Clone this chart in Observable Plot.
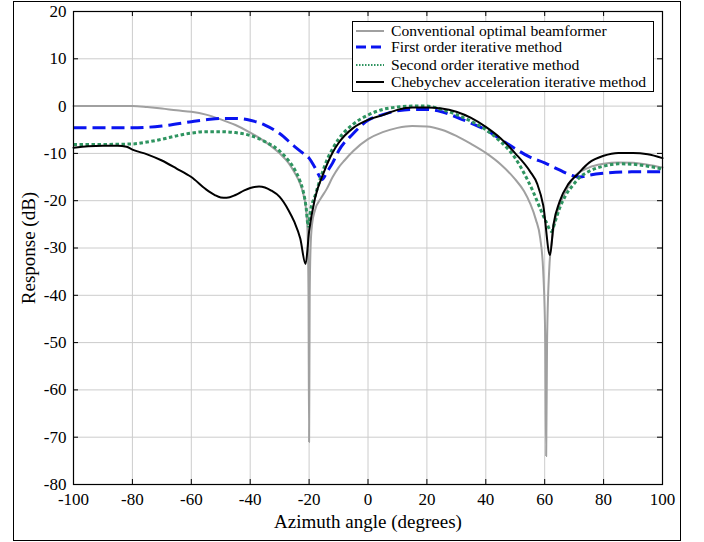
<!DOCTYPE html>
<html>
<head>
<meta charset="utf-8">
<script src="https://cdn.jsdelivr.net/npm/d3@7"></script>
<script src="https://cdn.jsdelivr.net/npm/@observablehq/plot@0.6"></script>
<style>
  html, body { margin: 0; padding: 0; background: #fff; }
  #wrap { position: relative; width: 704px; height: 542px; font-family: "Liberation Serif", "Times New Roman", serif; }
  #chart svg, #chart svg text { font-family: "Liberation Serif", "Times New Roman", serif !important; }
  #outer { position: absolute; left: 13px; top: 1px; width: 666px; height: 538px; border: 1px solid #000; pointer-events: none; }
  #legend { position: absolute; left: 352px; top: 21px; width: 300px; height: 69px; border: 1px solid #000; background: #fff; font-size: 15.6px; color: #000; }
  .row { position: absolute; left: 0; height: 17px; display: flex; align-items: center; white-space: nowrap; }
  .row svg { margin-left: 3px; margin-right: 7px; }
</style>
</head>
<body>
<div id="wrap">
  <div id="chart"></div>
  <div id="outer"></div>
  <div id="legend"></div>
</div>
<script>
// ---- Data ----
const seriesNames = [
  "Conventional optimal beamformer",
  "First order iterative method",
  "Second order iterative method",
  "Chebychev acceleration iterative method"
];

const convAngle = [-100,-90,-80,-75,-70,-65,-60,-55,-50,-45,-40,-35,-30,-27,-25,-23,-22,-21,-20.5,-20.2,-20,-19.8,-19.5,-19,-18,-16,-14,-12,-10,-8,-5,0,5,10,15,20,25,30,35,40,45,50,53,55,57,58.5,59.5,60.2,60.5,60.8,61.5,62.5,64,66,68,70,75,80,85,90,95,100];
const convDb    = [0,0,0,-0.2,-0.5,-0.9,-1.2,-1.8,-2.8,-4,-5.6,-7.5,-10,-12,-14,-16.5,-18.5,-22,-27,-40,-71,-40,-30,-25,-22,-19.5,-17.5,-15,-13,-11.5,-9.5,-7,-5.5,-4.6,-4.2,-4.3,-5,-6.3,-8,-9.9,-12.3,-15.5,-18,-20.5,-24,-28,-35,-50,-74,-50,-35,-28,-23,-19.5,-17,-15,-13,-12.2,-11.9,-12,-12.4,-13];

const firstAngle = [-100,-90,-80,-70,-60,-55,-50,-45,-40,-35,-30,-25,-22,-20,-18,-15.5,-14,-12,-10,-5,0,5,10,15,20,25,30,35,40,45,50,55,60,65,70,72,75,80,90,100];
const firstDb    = [-4.6,-4.6,-4.6,-4.2,-3.3,-2.9,-2.6,-2.6,-3.0,-4.0,-5.8,-8.5,-10,-11,-13,-15.5,-14,-12,-9.5,-5.8,-3,-1.8,-1.0,-0.7,-0.7,-1.2,-2.3,-3.6,-5,-7,-9,-10.8,-12,-13.5,-14.8,-15,-14.6,-14.2,-13.9,-13.9];

const secondAngle = [-100,-90,-80,-75,-70,-65,-60,-55,-50,-45,-40,-35,-30,-27,-25,-23,-22,-21,-20.3,-19.5,-18,-16,-14,-12,-10,-5,0,5,10,15,20,25,30,35,40,45,50,54,56,58.5,60.5,62.3,63.5,65,67,69.5,72,75,80,85,90,95,100];
const secondDb    = [-8.1,-8.1,-8.0,-7.6,-7.0,-6.3,-5.7,-5.4,-5.4,-5.6,-6.2,-7.5,-9.5,-11.5,-13.3,-16,-18,-21.5,-25.4,-22,-19,-15,-11.5,-9,-7,-3.8,-1.9,-0.7,-0.2,0,0,-0.7,-1.8,-3.2,-5,-7.5,-11,-15.4,-18,-21.7,-24.5,-26.5,-24.5,-21.7,-19,-16.8,-15,-13.8,-12.7,-12.2,-12.3,-12.7,-13.3];

const chebAngle = [-100,-95,-90,-85,-82,-80,-75,-70,-65,-60,-55,-52,-50,-48,-45,-42,-40,-37,-35,-33,-30,-27,-25,-23,-21.2,-20,-18,-15,-12,-10,-5,0,5,10,15,20,25,30,35,40,45,50,55,57.5,59.5,61.8,63,65,68,71,75,80,85,90,95,100];
const chebDb    = [-8.8,-8.5,-8.4,-8.4,-8.6,-9.2,-10.2,-11.5,-13.2,-15,-17.6,-18.8,-19.3,-19.4,-18.8,-17.8,-17.3,-17.0,-17.2,-17.8,-19.2,-22,-24.5,-28,-33.4,-26.5,-19.5,-14,-9.8,-7.8,-4.6,-2.9,-1.9,-0.8,-0.3,-0.3,-0.5,-1.2,-2.5,-4.4,-6.8,-10,-13.8,-16.5,-21,-31.5,-25,-20.3,-16.5,-14.5,-12,-10.5,-9.9,-9.9,-10.2,-11];

const xTicks = [-100,-80,-60,-40,-20,0,20,40,60,80,100];
const yTicks = [20,10,0,-10,-20,-30,-40,-50,-60,-70,-80];

// ---- Build tables ----
const toRows = (xs, ys) => xs.map((x, i) => ({x, y: ys[i]}));
const conv = toRows(convAngle, convDb);
const first = toRows(firstAngle, firstDb);
const second = toRows(secondAngle, secondDb);
const cheb = toRows(chebAngle, chebDb);

const styles = [
  {stroke: "#a0a0a0", strokeWidth: 2, dash: null},
  {stroke: "#0a14f0", strokeWidth: 3, dash: "13,6"},
  {stroke: "#2e9460", strokeWidth: 3, dash: "3.5,2.5"},
  {stroke: "#000000", strokeWidth: 2, dash: null}
];

const W = 704, H = 542;
const mL = 73, mR = 42, mT = 11, mB = 58;
const pxPerX = (W - mL - mR) / 200;
const pxPerY = (H - mT - mB) / 100;
const tickLen = 5;
const serif = "Liberation Serif, Times New Roman, serif";

const fmt = d => String(d);

const chart = Plot.plot({
  width: W,
  height: H,
  marginLeft: mL,
  marginRight: mR,
  marginTop: mT,
  marginBottom: mB,
  style: {fontFamily: serif, fontSize: "17px", color: "#000", background: "#fff", overflow: "visible"},
  x: {domain: [-100, 100]},
  y: {domain: [-80, 20]},
  marks: [
    Plot.gridX(xTicks, {stroke: "#cccccc", strokeOpacity: 1, strokeWidth: 1}),
    Plot.gridY(yTicks, {stroke: "#cccccc", strokeOpacity: 1, strokeWidth: 1}),
    Plot.axisX(xTicks, {label: null, tickSize: 0, tickPadding: 8, tickFormat: fmt, fontSize: 17, fontFamily: serif}),
    Plot.axisX({label: "Azimuth angle (degrees)", labelAnchor: "center", labelOffset: 43, labelArrow: false, ticks: [], tickSize: 0, fontSize: 19, fontFamily: serif}),
    Plot.axisY(yTicks, {label: null, tickSize: 0, tickPadding: 7, tickFormat: fmt, fontSize: 17, fontFamily: serif}),
    Plot.axisY({label: "Response (dB)", labelAnchor: "center", labelOffset: 52, labelArrow: false, ticks: [], tickSize: 0, fontSize: 19, fontFamily: serif}),
    // inward tick marks on all four sides
    Plot.ruleX(xTicks, {x: d => d, y1: -80, y2: -80 + tickLen / pxPerY, stroke: "#000"}),
    Plot.ruleX(xTicks, {x: d => d, y1: 20, y2: 20 - tickLen / pxPerY, stroke: "#000"}),
    Plot.ruleY(yTicks, {y: d => d, x1: -100, x2: -100 + tickLen / pxPerX, stroke: "#000"}),
    Plot.ruleY(yTicks, {y: d => d, x1: 100, x2: 100 - tickLen / pxPerX, stroke: "#000"}),
    Plot.line(conv, {x: "x", y: "y", stroke: styles[0].stroke, strokeWidth: styles[0].strokeWidth, curve: "monotone-x"}),
    Plot.line(first, {x: "x", y: "y", stroke: styles[1].stroke, strokeWidth: styles[1].strokeWidth, strokeDasharray: styles[1].dash, strokeLinecap: "butt", curve: "monotone-x"}),
    Plot.line(second, {x: "x", y: "y", stroke: styles[2].stroke, strokeWidth: styles[2].strokeWidth, strokeDasharray: styles[2].dash, strokeLinecap: "butt", curve: "monotone-x"}),
    Plot.line(cheb, {x: "x", y: "y", stroke: styles[3].stroke, strokeWidth: styles[3].strokeWidth, curve: "monotone-x"}),
    Plot.frame({stroke: "#000", strokeWidth: 1.2})
  ]
});
document.getElementById("chart").appendChild(chart);

// ---- Legend ----
const legend = document.getElementById("legend");
const rowTops = [0, 16.5, 34, 51.5];
seriesNames.forEach((name, i) => {
  const row = document.createElement("div");
  row.className = "row";
  row.style.top = rowTops[i] + "px";
  const s = styles[i];
  const lw = i === 2 ? 2 : s.strokeWidth;
  const dash = i === 2 ? "1.5,1.5" : (s.dash ? "10,5" : "none");
  row.innerHTML = `<svg width="28" height="10"><line x1="0" y1="5" x2="28" y2="5" stroke="${s.stroke}" stroke-width="${lw}" stroke-dasharray="${dash}"/></svg><span>${name}</span>`;
  legend.appendChild(row);
});
</script>
</body>
</html>
